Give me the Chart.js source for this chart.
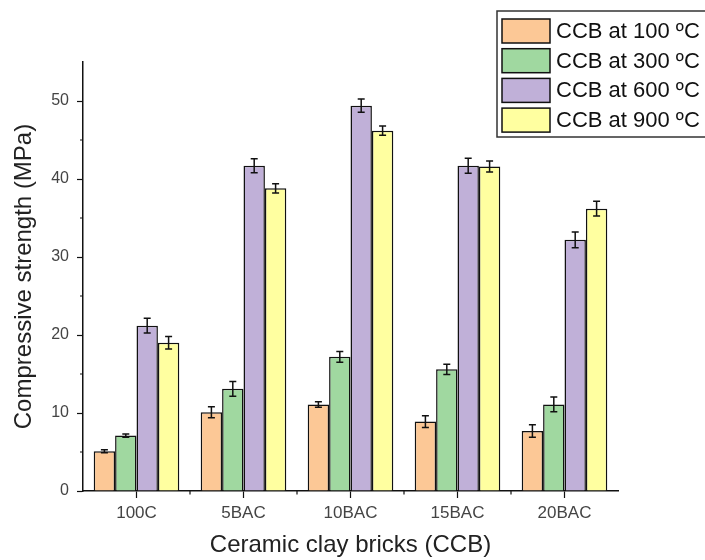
<!DOCTYPE html>
<html>
<head>
<meta charset="utf-8">
<script src="https://cdn.jsdelivr.net/npm/chart.js@4.4.0/dist/chart.umd.min.js"></script>
<style>
  html, body { margin: 0; padding: 0; background: #ffffff; }
  #wrap { width: 705px; height: 560px; }
</style>
</head>
<body>
<div id="wrap"><canvas id="c" width="705" height="560"></canvas></div>
<script>
const categories = ['100C', '5BAC', '10BAC', '15BAC', '20BAC'];
const seriesNames = ['CCB at 100 ºC', 'CCB at 300 ºC', 'CCB at 600 ºC', 'CCB at 900 ºC'];
const ccb100 = [5.1, 10.1, 11.1, 8.9, 7.7];
const ccb300 = [7.1, 13.1, 17.2, 15.6, 11.1];
const ccb600 = [21.2, 41.7, 49.4, 41.7, 32.2];
const ccb900 = [19.0, 38.8, 46.2, 41.6, 36.2];
const err100 = [0.2, 0.7, 0.35, 0.75, 0.8];
const err300 = [0.2, 0.95, 0.7, 0.65, 0.95];
const err600 = [0.95, 0.9, 0.85, 0.95, 1.0];
const err900 = [0.8, 0.6, 0.6, 0.7, 0.95];
const yTicksMajor = [0, 10, 20, 30, 40, 50];
const yMinor = [5, 15, 25, 35, 45];

const colors = ['#FCC896', '#A0D8A0', '#C0B0D8', '#FFFFA0'];
const values = [ccb100, ccb300, ccb600, ccb900];
const errors = [err100, err300, err600, err900];
const FONT = '"Liberation Sans", Arial, sans-serif';

const errorBarPlugin = {
  id: 'errorBars',
  afterDatasetsDraw(chart) {
    const ctx = chart.ctx;
    const y = chart.scales.y;
    ctx.save();
    ctx.strokeStyle = '#111';
    ctx.lineWidth = 1.5;
    chart.data.datasets.forEach((ds, di) => {
      const meta = chart.getDatasetMeta(di);
      meta.data.forEach((bar, i) => {
        const v = ds.data[i], e = ds.errors[i];
        const x = bar.x;
        const y1 = y.getPixelForValue(v + e);
        const y2 = y.getPixelForValue(v - e);
        ctx.beginPath();
        ctx.moveTo(x, y1); ctx.lineTo(x, y2);
        ctx.moveTo(x - 3.5, y1); ctx.lineTo(x + 3.5, y1);
        ctx.moveTo(x - 3.5, y2); ctx.lineTo(x + 3.5, y2);
        ctx.stroke();
      });
    });
    ctx.restore();
  }
};

const minorTickPlugin = {
  id: 'minorTicks',
  afterDraw(chart) {
    const ctx = chart.ctx;
    const y = chart.scales.y, x = chart.scales.x;
    ctx.save();
    ctx.strokeStyle = '#111';
    ctx.lineWidth = 1.2;
    ctx.beginPath();
    yMinor.forEach(v => {
      const py = y.getPixelForValue(v);
      ctx.moveTo(y.right - 3, py); ctx.lineTo(y.right, py);
    });
    for (let i = 0; i < categories.length - 1; i++) {
      const px = (x.getPixelForValue(i) + x.getPixelForValue(i + 1)) / 2;
      ctx.moveTo(px, x.top); ctx.lineTo(px, x.top + 3.5);
    }
    ctx.stroke();
    ctx.restore();
  }
};

const legendPlugin = {
  id: 'boxLegend',
  afterDraw(chart) {
    const ctx = chart.ctx;
    ctx.save();
    ctx.strokeStyle = '#333';
    ctx.lineWidth = 1.5;
    ctx.strokeRect(497, 11, 220, 126);
    ctx.font = '22px ' + FONT;
    ctx.textBaseline = 'middle';
    ctx.textAlign = 'left';
    chart.data.datasets.forEach((ds, i) => {
      const top = 19 + 29.7 * i;
      ctx.fillStyle = ds.backgroundColor;
      ctx.fillRect(502, top, 48, 24);
      ctx.strokeStyle = '#111';
      ctx.lineWidth = 1.5;
      ctx.strokeRect(502, top, 48, 24);
      ctx.fillStyle = '#111';
      ctx.fillText(ds.label, 556, top + 13);
    });
    ctx.restore();
  }
};

const datasets = seriesNames.map((name, i) => ({
  label: name,
  data: values[i],
  errors: errors[i],
  backgroundColor: colors[i],
  borderColor: '#111',
  borderWidth: 1.5,
  barPercentage: 1.0,
  categoryPercentage: 0.8
}));

new Chart(document.getElementById('c'), {
  type: 'bar',
  data: { labels: categories, datasets },
  options: {
    responsive: false,
    animation: false,
    devicePixelRatio: 1,
    layout: { padding: { top: 62, right: 87, left: 0, bottom: 0 } },
    plugins: { legend: { display: false }, tooltip: { enabled: false } },
    scales: {
      x: {
        afterFit(s) { s.height = 69; },
        grid: { offset: false, drawOnChartArea: false, tickLength: 7, color: '#111', tickWidth: 1.2 },
        border: { color: '#111', width: 1.5 },
        ticks: { color: '#444', font: { family: FONT, size: 17 }, padding: 5, maxRotation: 0 },
        title: { display: true, text: 'Ceramic clay bricks (CCB)', color: '#222',
                 font: { family: FONT, size: 24 }, padding: { top: 0, bottom: 0 } }
      },
      y: {
        min: 0, max: 55,
        afterFit(s) { s.width = 83; },
        afterBuildTicks(s) { s.ticks = yTicksMajor.map(v => ({ value: v })); },
        grid: { drawOnChartArea: false, tickLength: 6, color: '#111', tickWidth: 1.2 },
        border: { color: '#111', width: 1.5 },
        ticks: { color: '#444', font: { family: FONT, size: 16 }, padding: 8 },
        title: { display: true, text: 'Compressive strength (MPa)', color: '#222',
                 font: { family: FONT, size: 24 }, padding: { top: 10, bottom: 0 } }
      }
    }
  },
  plugins: [errorBarPlugin, minorTickPlugin, legendPlugin]
});
</script>
</body>
</html>
